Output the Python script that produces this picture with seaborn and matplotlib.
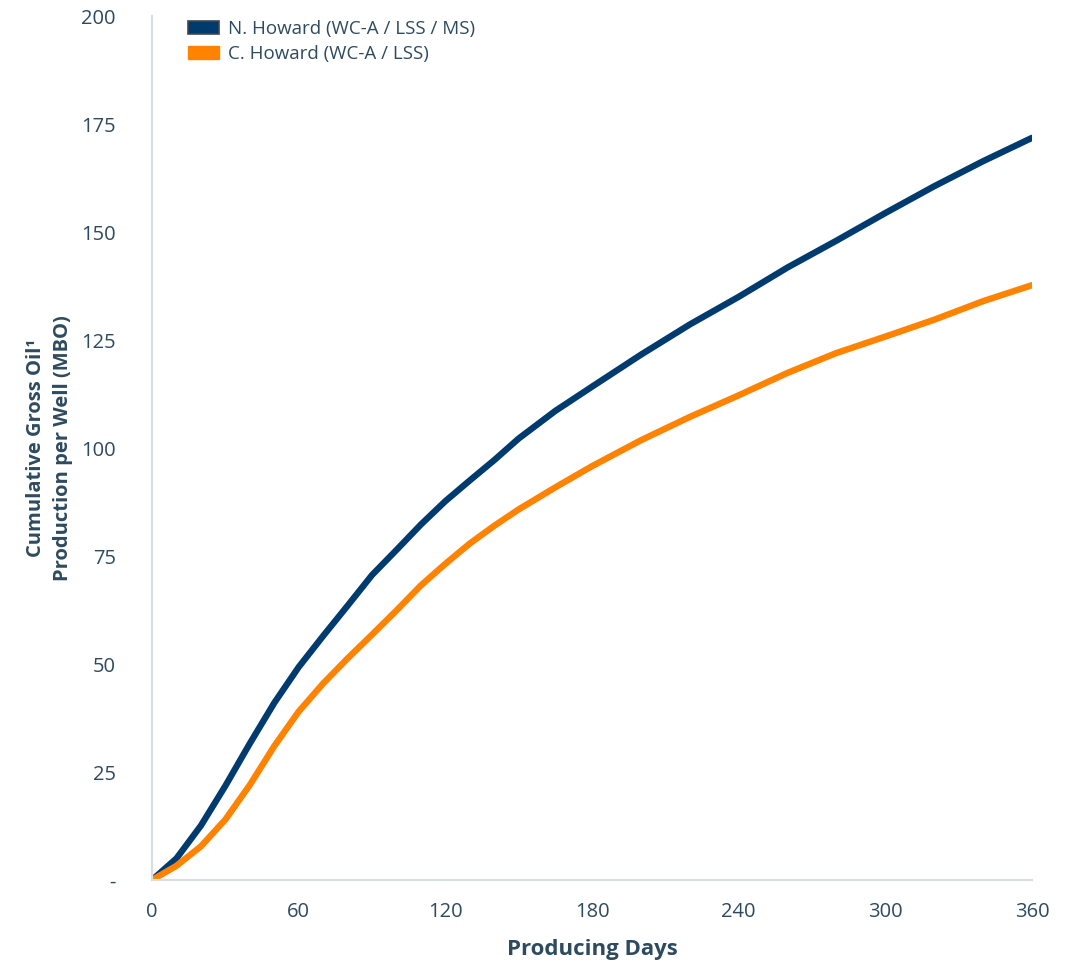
import pandas as pd
import seaborn as sns
import matplotlib.pyplot as plt
from matplotlib.patches import Patch

# producing days and cumulative oil (MBO)
days = [0, 10, 20, 30, 40, 50, 60, 70, 80, 90, 100, 110, 120, 130, 140, 150, 165, 180,
        200, 220, 240, 260, 280, 300, 320, 340, 360]
n_howard = [0, 5.0, 12.6, 21.8, 31.6, 41.0, 49.3, 56.5, 63.5, 70.6, 76.4, 82.3, 87.7, 92.5,
            97.2, 102.2, 108.6, 114.2, 121.6, 128.6, 135.0, 141.8, 148.0, 154.4, 160.6,
            166.4, 171.8]
c_howard = [0, 3.3, 7.8, 14.0, 22.0, 31.0, 39.0, 45.5, 51.3, 56.8, 62.4, 68.2, 73.2, 77.9,
            82.0, 85.8, 90.9, 95.8, 101.8, 107.2, 112.2, 117.4, 122.0, 125.8, 129.7, 134.0,
            137.7]

series_names = ["N. Howard (WC-A / LSS / MS)", "C. Howard (WC-A / LSS)"]
colors = ["#003B6F", "#FF8200"]

x_ticks = [0, 60, 120, 180, 240, 300, 360]
y_ticks = [0, 25, 50, 75, 100, 125, 150, 175, 200]
y_tick_labels = ["-", "25", "50", "75", "100", "125", "150", "175", "200"]

TEXT = "#2E4A5E"


def main():
    sns.set_style("white")
    plt.rcParams['font.family'] = ['Open Sans', 'DejaVu Sans']

    df = pd.DataFrame({
        'days': days * 2,
        'mbo': n_howard + c_howard,
        'area': [series_names[0]] * len(days) + [series_names[1]] * len(days),
    })

    fig = plt.figure(figsize=(10.76, 9.66), dpi=100)
    ax = fig.add_axes([0.1413, 0.089, 0.8178, 0.8944])

    sns.lineplot(data=df, x='days', y='mbo', hue='area', palette=colors,
                 linewidth=4.6, ax=ax, legend=False,
                 solid_capstyle='round', solid_joinstyle='round')

    ax.set_xlim(0, 360)
    ax.set_ylim(0, 200)
    ax.set_xticks(x_ticks)
    ax.set_yticks(y_ticks)
    ax.set_yticklabels(y_tick_labels)
    ax.tick_params(axis='both', length=0, labelsize=14.5, colors=TEXT)
    ax.tick_params(axis='y', pad=26)
    ax.tick_params(axis='x', pad=16)

    for side in ['top', 'right']:
        ax.spines[side].set_visible(False)
    for side in ['left', 'bottom']:
        ax.spines[side].set_color("#D9DEE3")
        ax.spines[side].set_linewidth(1.6)

    ax.set_xlabel("Producing Days", fontsize=16, fontweight='bold', color=TEXT, labelpad=12)
    ax.set_ylabel("Cumulative Gross Oil¹\nProduction per Well (MBO)", fontsize=14.5,
                  fontweight='bold', color=TEXT, labelpad=6, linespacing=1.45)

    # legend
    handles = [Patch(facecolor=colors[0], edgecolor="#3A4A55", linewidth=1.2),
               Patch(facecolor=colors[1], edgecolor=colors[1])]
    ax.legend(handles, series_names, loc='upper left', bbox_to_anchor=(0.022, 1.015),
              frameon=False, fontsize=13.5, labelcolor=TEXT, handlelength=1.65,
              handleheight=0.75, handletextpad=0.45, labelspacing=0.38)

    plt.savefig("out.png", dpi=100)


if __name__ == '__main__':
    main()
